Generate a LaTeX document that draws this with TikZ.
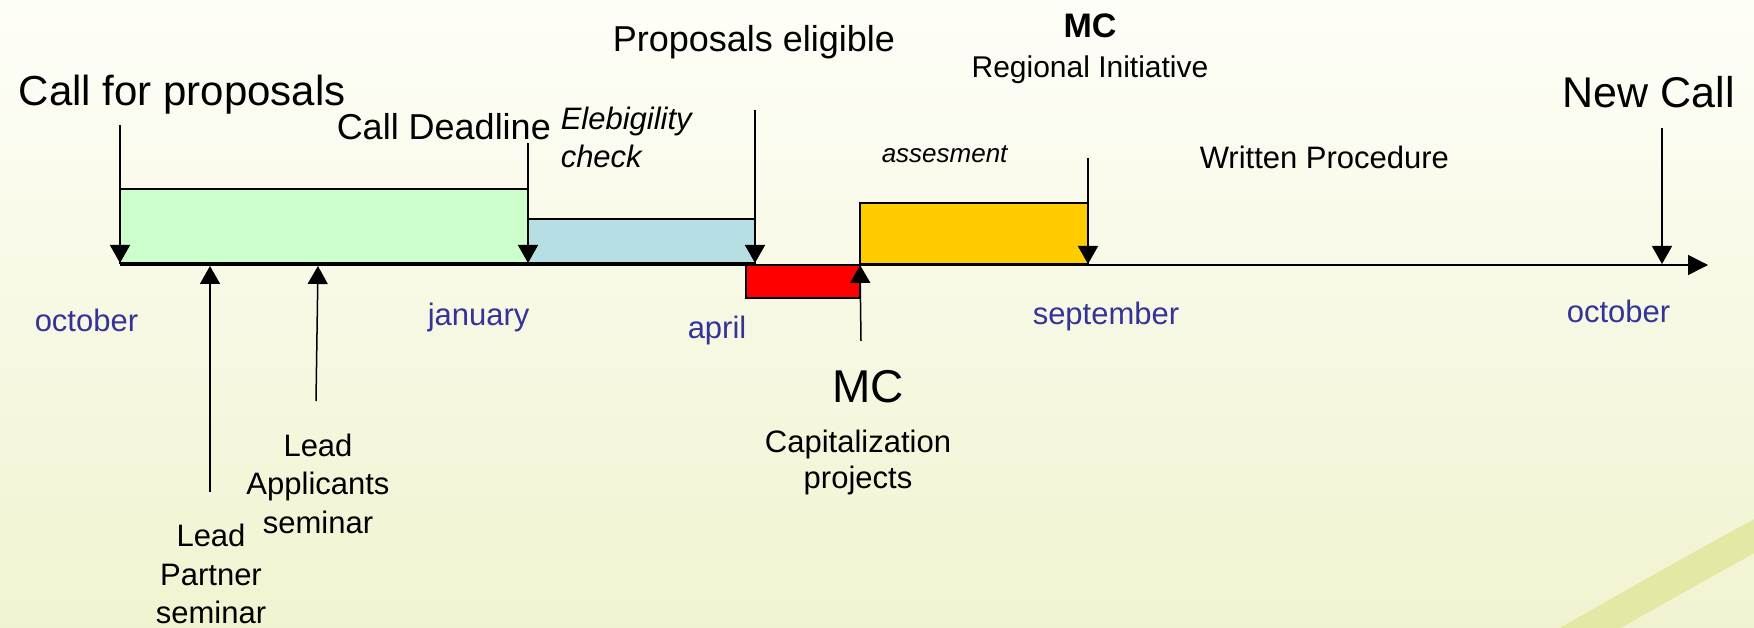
\documentclass[tikz,border=0pt]{standalone}
\usepackage{fontspec}
\setmainfont{Liberation Sans}
\usetikzlibrary{arrows.meta}
\definecolor{bgtop}{HTML}{FEFEF8}
\definecolor{bgbot}{HTML}{F1F3D0}
\definecolor{swoosh}{HTML}{E3E9A4}
\definecolor{greenbar}{HTML}{CCFFCC}
\definecolor{bluebar}{HTML}{B7DEE2}
\definecolor{redbar}{HTML}{FF0000}
\definecolor{yellowbar}{HTML}{FFCC00}
\definecolor{monthblue}{HTML}{333399}
\newcommand\fsz[2]{\fontsize{#1}{#2}\selectfont}
\begin{document}
\begin{tikzpicture}[x=1pt,y=-1pt,line width=1.5pt,
  tip/.style={-{Triangle[width=20pt,length=18pt]}},
  lbl/.style={inner sep=0pt,anchor=base west,text=black},
  clbl/.style={inner sep=0pt,anchor=base,text=black},
  month/.style={inner sep=0pt,anchor=base west,text=monthblue,font=\fsz{31}{37}},
  bar/.style={draw=black,line width=1.5pt}]
% background
\useasboundingbox (0,0) rectangle (1754,628);
\shade[top color=bgtop,bottom color=bgbot] (0,0) rectangle (1754,628);
\begin{scope}
\clip (0,0) rectangle (1754,628);
\draw[swoosh,line width=30pt] (1560,645) .. controls (1640,600) and (1700,565) .. (1775,525);
\end{scope}
% bars
\draw[bar,fill=greenbar] (120,189) rectangle (528,263);
\draw[bar,fill=bluebar] (528,219) rectangle (755,263);
\draw[bar,fill=redbar] (746,265) rectangle (860,298);
\draw[bar,fill=yellowbar] (860,203) rectangle (1088,264);
% axis
\coordinate (axs) at (120,265);
\coordinate (axe) at (1708,265);
\draw[tip,-{Triangle[width=20pt,length=20pt]}] (axs) -- (axe);
% labels above
\node[lbl,font=\fsz{42}{50}] (cfp) at (18,106) {Call for proposals};
\node[lbl,font=\fsz{36}{43}] (cdl) at (336,140) {Call Deadline};
\node[lbl,font=\fsz{36}{43}] (pel) at (612,52) {Proposals eligible};
\node[clbl,font=\bfseries\fsz{34}{40}] (mcr) at (1090,38) {MC};
\node[clbl,font=\fsz{30}{36}] (ri) at (1090,78) {Regional Initiative};
\node[lbl,font=\itshape\fsz{31}{37}] (el1) at (560,130) {Elebigility};
\node[lbl,font=\itshape\fsz{31}{37}] (el2) at (560,168) {check};
\node[lbl,font=\itshape\fsz{26}{31}] (ass) at (881,163) {assesment};
\node[lbl,font=\fsz{31}{37}] (wp) at (1199,169) {Written Procedure};
\node[lbl,font=\fsz{43}{51}] (nc) at (1562,108) {New Call};
% months
\node[month] (m1) at (34,332) {october};
\node[month] (m2) at (427,326) {january};
\node[month] (m3) at (687,338) {april};
\node[month] (m4) at (1032,325) {september};
\node[month] (m5) at (1566,323) {october};
% labels below
\node[clbl,font=\fsz{46}{55}] (mcc) at (868,402) {MC};
\node[clbl,font=\fsz{31}{37}] (cap1) at (858,452) {Capitalization};
\node[clbl,font=\fsz{31}{37}] (cap2) at (858,488) {projects};
\node[clbl,font=\fsz{31}{37}] (la1) at (318,456) {Lead};
\node[clbl,font=\fsz{31}{37}] (la2) at (318,494) {Applicants};
\node[clbl,font=\fsz{31}{37}] (la3) at (318,533) {seminar};
\node[clbl,font=\fsz{31}{37}] (lp1) at (211,546) {Lead};
\node[clbl,font=\fsz{31}{37}] (lp2) at (211,585) {Partner};
\node[clbl,font=\fsz{31}{37}] (lp3) at (211,623) {seminar};
% arrow ends
\coordinate (a1s) at (120,125);  \coordinate (a1e) at (120,263);
\coordinate (a2s) at (528,143);  \coordinate (a2e) at (528,263);
\coordinate (a3s) at (755,110);  \coordinate (a3e) at (755,263);
\coordinate (a4s) at (1088,158); \coordinate (a4e) at (1088,264);
\coordinate (a5s) at (1662,128); \coordinate (a5e) at (1662,264);
\coordinate (u1s) at (210,492);  \coordinate (u1e) at (210,266);
\coordinate (u2s) at (316,401);  \coordinate (u2e) at (318,266);
\coordinate (u3s) at (861,341);  \coordinate (u3e) at (860,265);
\draw[tip] (a1s) -- (a1e);
\draw[tip] (a2s) -- (a2e);
\draw[tip] (a3s) -- (a3e);
\draw[tip] (a4s) -- (a4e);
\draw[tip] (a5s) -- (a5e);
\draw[tip] (u1s) -- (u1e);
\draw[tip] (u2s) -- (u2e);
\draw[tip] (u3s) -- (u3e);
\end{tikzpicture}
\end{document}
